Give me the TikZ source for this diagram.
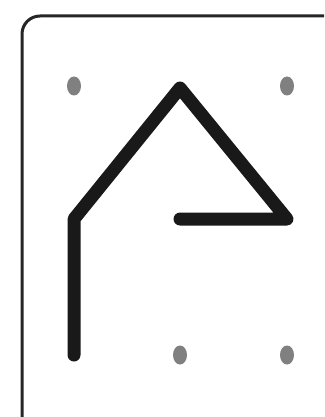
\documentclass[tikz,border=0pt]{standalone}
\begin{document}
\begin{tikzpicture}[x=1pt,y=-1pt,
  peg/.style={fill=black!50},
  band/.style={line width=13pt,line cap=round,line join=round,black!90},
  frame/.style={line width=3pt,rounded corners=18pt,black!85}]
\useasboundingbox (0,0) rectangle (324,417);
\clip (0,0) rectangle (324,417);
\fill[white] (0,0) rectangle (324,417);
\draw[frame] (22,16) rectangle (345,440);
% grid points
\coordinate (a1) at (74,86);  \coordinate (a2) at (180,86);  \coordinate (a3) at (287,86);
\coordinate (b1) at (74,219); \coordinate (b2) at (180,219); \coordinate (b3) at (287,219);
\coordinate (c1) at (74,355); \coordinate (c2) at (180,355); \coordinate (c3) at (287,355);
\foreach \p in {a1,a3,c2,c3} \fill[peg] (\p) ellipse (7pt and 9.5pt);
\draw[band] (c1) -- (b1) -- ([yshift=-2pt]a2) -- (b3) -- (b2);
\end{tikzpicture}
\end{document}
